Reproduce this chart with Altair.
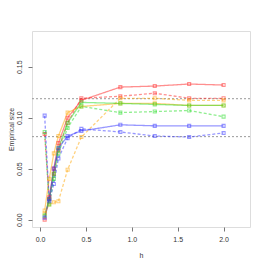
import altair as alt
import pandas as pd

h = [0.05, 0.1, 0.15, 0.2, 0.3, 0.45, 0.875, 1.25, 1.625, 2.0]

red_solid = [0.000, 0.022, 0.050, 0.075, 0.100, 0.117, 0.130, 0.131, 0.133, 0.132]
red_dashed = [0.084, 0.020, 0.045, 0.068, 0.095, 0.119, 0.121, 0.124, 0.119, 0.119]
orange_solid = [0.009, 0.040, 0.065, 0.082, 0.105, 0.111, 0.114, 0.114, 0.112, 0.112]
orange_dashed = [0.006, 0.015, 0.017, 0.018, 0.049, 0.081, 0.119, 0.119, 0.117, 0.117]
green_solid = [0.004, 0.020, 0.045, 0.070, 0.095, 0.115, 0.114, 0.113, 0.112, 0.112]
green_dashed = [0.086, 0.015, 0.040, 0.065, 0.090, 0.111, 0.105, 0.106, 0.107, 0.101]
blue_solid = [0.002, 0.020, 0.050, 0.070, 0.082, 0.087, 0.093, 0.092, 0.092, 0.092]
blue_dashed = [0.102, 0.018, 0.035, 0.060, 0.080, 0.089, 0.086, 0.082, 0.081, 0.085]

ref_lines = [0.0814, 0.1186]

series = [
    ("red_solid", red_solid, "#ff2020", "solid"),
    ("red_dashed", red_dashed, "#ff2020", "dashed"),
    ("orange_solid", orange_solid, "#ffa500", "solid"),
    ("orange_dashed", orange_dashed, "#ffa500", "dashed"),
    ("green_solid", green_solid, "#22dd22", "solid"),
    ("green_dashed", green_dashed, "#22dd22", "dashed"),
    ("blue_solid", blue_solid, "#3030ff", "solid"),
    ("blue_dashed", blue_dashed, "#3030ff", "dashed"),
]

rows = []
for name, vals, col, dash in series:
    for x, y in zip(h, vals):
        rows.append({"h": x, "size": y, "series": name, "dash": dash})
df = pd.DataFrame(rows)

names = [s[0] for s in series]
colors = [s[2] for s in series]

xs = alt.Scale(domain=[-0.088, 2.288], nice=False, zero=False)
ys = alt.Scale(domain=[-0.0072, 0.185], nice=False, zero=False)

xaxis = alt.Axis(values=[0, 0.5, 1.0, 1.5, 2.0], format=".1f", title="h",
                 grid=False, domain=False, tickColor="#777", tickSize=4,
                 labelFontSize=7, labelColor="#333", labelPadding=4,
                 titleFontSize=7, titleFontWeight="normal", titleColor="#333",
                 titlePadding=9)
yaxis = alt.Axis(values=[0, 0.05, 0.10, 0.15], format=".2f", title="Empirical size",
                 grid=False, domain=False, tickColor="#777", tickSize=4,
                 labelFontSize=7, labelColor="#333", labelAngle=-90,
                 labelAlign="center", labelBaseline="bottom", labelPadding=6,
                 titleFontSize=7, titleFontWeight="normal", titleColor="#333",
                 titlePadding=1)

base = alt.Chart(df)
lines = base.mark_line(strokeWidth=1.3, opacity=0.5).encode(
    x=alt.X("h:Q", scale=xs, axis=xaxis),
    y=alt.Y("size:Q", scale=ys, axis=yaxis),
    color=alt.Color("series:N", scale=alt.Scale(domain=names, range=colors), legend=None),
    strokeDash=alt.StrokeDash("dash:N", scale=alt.Scale(domain=["solid", "dashed"], range=[[1, 0], [3, 2]]), legend=None),
    detail="series:N",
)
points = base.mark_point(shape="square", size=9, filled=False, strokeWidth=1.1, opacity=0.5).encode(
    x=alt.X("h:Q", scale=xs),
    y=alt.Y("size:Q", scale=ys),
    color=alt.Color("series:N", scale=alt.Scale(domain=names, range=colors), legend=None),
)

refdf = pd.DataFrame({"y": ref_lines})
refs = alt.Chart(refdf).mark_rule(color="#999", strokeDash=[2, 2], strokeWidth=1).encode(
    y=alt.Y("y:Q", scale=ys)
)

chart = alt.layer(refs, lines, points).properties(
    width=218, height=196,
    padding={"left": 24, "top": 23, "right": 8, "bottom": 31},
    autosize=alt.AutoSizeParams(type="none"),
).configure_view(stroke="#888", strokeWidth=1).configure(font="Liberation Sans")

chart.save("out.html", embed_options={"renderer": "svg", "actions": False})
